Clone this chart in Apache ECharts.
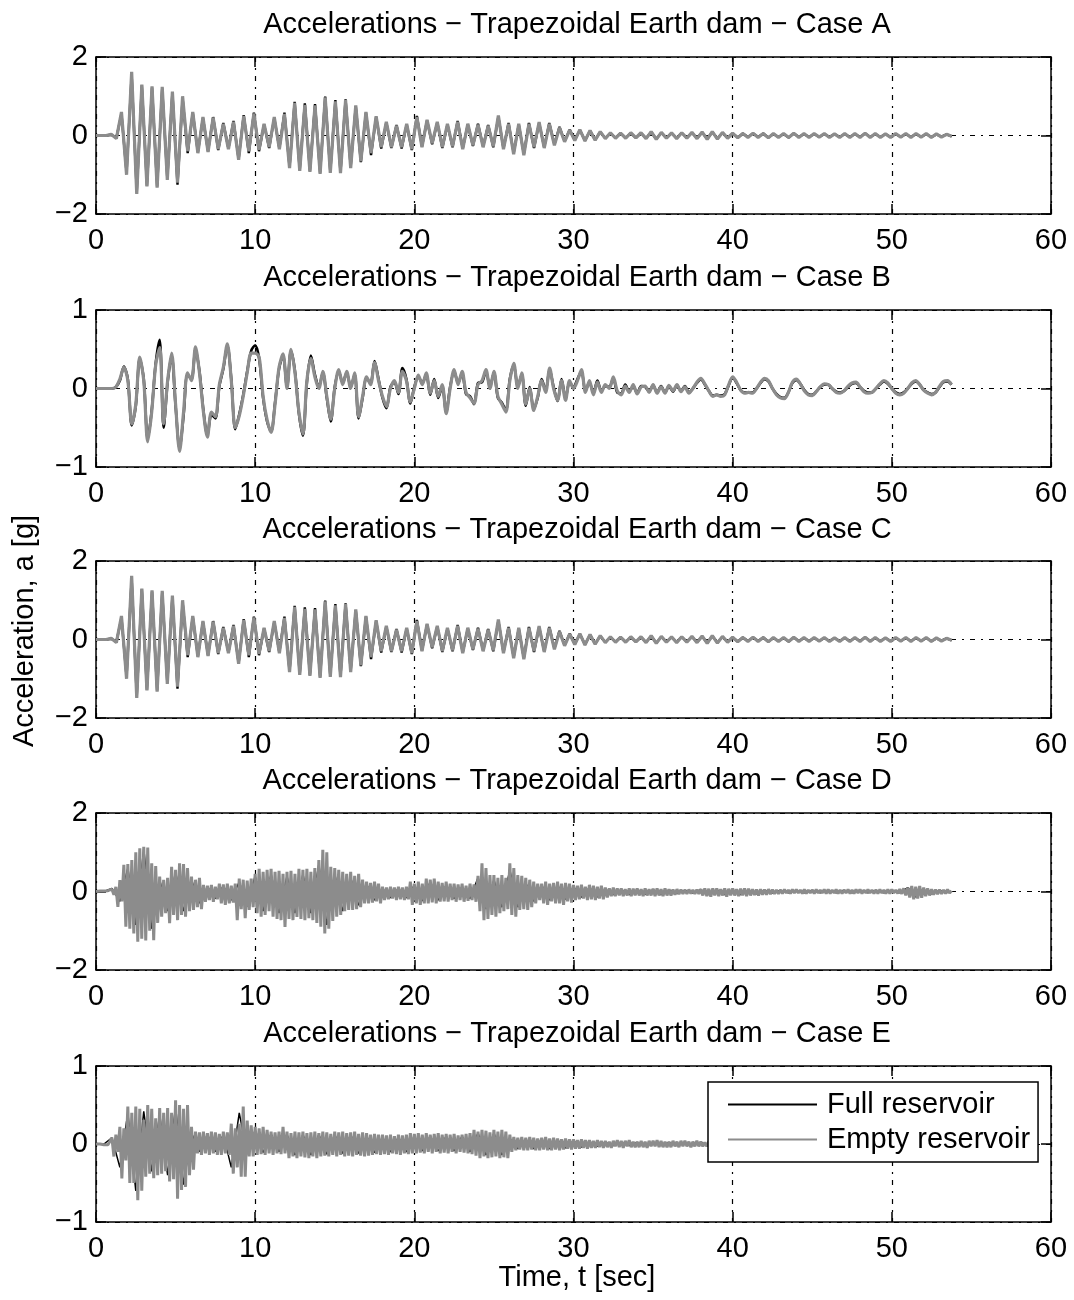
<!DOCTYPE html>
<html><head><meta charset="utf-8">
<script src="https://cdn.jsdelivr.net/npm/echarts@6/dist/echarts.min.js"></script>
<style>html,body{margin:0;padding:0;background:#fff}#c{width:1074px;height:1300px}</style>
</head><body><div id="c"></div>
<script>
// ---------- data ----------
const xTicks = [0, 10, 20, 30, 40, 50, 60];
const caseLabels = ['A', 'B', 'C', 'D', 'E'];
const yRangeA = [-2, 2], yRangeB = [-1, 1], yRangeC = [-2, 2], yRangeD = [-2, 2], yRangeE = [-1, 1];
// sample steps (s)
const dtA = 0.32, dtB = 0.25, dtC = 0.32, dtD = 0.125, dtE = 0.125, dtDfull = 0.5, dtEfull = 0.5;

const caseA_empty = [
0,0,0,0.03,-0.08,0.6,-1.0,1.62,-1.49,1.3,
-1.3,1.25,-1.33,1.24,-1.13,1.12,-1.2,1.0,-0.4,0.6,
-0.45,0.47,-0.42,0.46,-0.35,0.3,-0.35,0.35,-0.62,0.5,
-0.4,0.56,-0.37,0.3,-0.3,0.47,-0.35,0.55,-0.83,0.83,
-0.9,0.78,-0.93,0.77,-0.98,0.97,-0.95,0.87,-0.96,0.9,
-0.83,0.77,-0.66,0.6,-0.45,0.49,-0.3,0.35,-0.3,0.25,
-0.3,0.3,-0.35,0.47,-0.3,0.4,-0.2,0.35,-0.3,0.3,
-0.28,0.35,-0.35,0.3,-0.25,0.28,-0.3,0.25,-0.28,0.51,
-0.35,0.3,-0.48,0.3,-0.5,0.3,-0.3,0.34,-0.32,0.3,
-0.25,0.2,-0.16,0.14,-0.13,0.15,-0.14,0.13,-0.12,0.1,
-0.08,0.07,-0.07,0.06,-0.07,0.07,-0.06,0.07,-0.08,0.1,
-0.1,0.08,-0.07,0.07,-0.08,0.07,-0.07,0.08,-0.08,0.09,
-0.1,0.1,-0.09,0.08,-0.07,0.06,-0.06,0.05,-0.05,0.06,
-0.05,0.05,-0.06,0.05,-0.05,0.05,-0.05,0.06,-0.05,0.05,
-0.05,0.05,-0.04,0.05,-0.05,0.04,-0.05,0.05,-0.05,0.05,
-0.05,0.06,-0.05,0.05,-0.05,0.04,-0.05,0.05,-0.04,0.05,
-0.05,0.05,-0.04,0.05,-0.05,0.04,-0.04,0.03,-0.02];
const caseA_full = [
0,0,0,0.02,-0.06,0.55,-0.95,1.55,-1.45,1.28,
-1.28,1.22,-1.3,1.2,-1.1,1.1,-1.25,0.95,-0.45,0.58,
-0.43,0.45,-0.4,0.47,-0.37,0.32,-0.33,0.37,-0.6,0.52,
-0.45,0.58,-0.4,0.28,-0.32,0.45,-0.33,0.58,-0.8,0.86,
-0.88,0.82,-0.9,0.8,-0.95,0.99,-0.93,0.9,-0.94,0.92,
-0.8,0.75,-0.68,0.58,-0.5,0.47,-0.33,0.33,-0.32,0.27,
-0.33,0.28,-0.37,0.5,-0.28,0.38,-0.22,0.33,-0.32,0.28,
-0.3,0.37,-0.33,0.28,-0.27,0.3,-0.28,0.27,-0.3,0.48,
-0.33,0.32,-0.45,0.28,-0.47,0.32,-0.32,0.32,-0.3,0.32,
-0.23,0.22,-0.15,0.15,-0.12,0.14,-0.13,0.12,-0.11,0.09,
-0.07,0.06,-0.06,0.06,-0.06,0.06,-0.06,0.06,-0.07,0.09,
-0.09,0.07,-0.07,0.06,-0.07,0.07,-0.06,0.07,-0.07,0.08,
-0.09,0.09,-0.08,0.07,-0.06,0.05,-0.05,0.05,-0.04,0.05,
-0.04,0.05,-0.05,0.04,-0.04,0.04,-0.05,0.05,-0.04,0.04,
-0.04,0.04,-0.04,0.04,-0.04,0.04,-0.04,0.04,-0.04,0.04,
-0.04,0.05,-0.04,0.04,-0.04,0.04,-0.04,0.04,-0.04,0.04,
-0.04,0.04,-0.04,0.04,-0.04,0.03,-0.03,0.03,-0.02];

const caseB_empty = [
0,0,0,0,0,0.02,0.12,0.27,0.1,-0.45,
-0.2,0.4,0.1,-0.68,-0.3,0.3,0.52,-0.45,0.1,0.45,
-0.2,-0.8,-0.3,0.2,0.1,0.53,0.2,-0.3,-0.62,-0.3,
-0.36,0.05,0.27,0.57,0.1,-0.5,-0.35,-0.1,0.2,0.45,
0.45,0.4,-0.1,-0.4,-0.56,-0.2,0.27,0.44,0.0,0.5,
0.2,-0.3,-0.58,0.1,0.38,0.15,0.0,0.22,-0.1,-0.39,
0.0,0.24,0.05,0.22,0.0,0.2,-0.36,-0.1,0.15,0.05,
0.33,0.1,-0.1,-0.23,0.0,0.1,-0.05,0.22,0.1,-0.17,
0.0,0.17,0.05,0.2,-0.06,0.1,-0.1,0.05,-0.32,0.0,
0.24,0.05,0.22,-0.05,-0.12,-0.19,0.05,0.1,0.24,0.0,
0.22,-0.1,-0.2,-0.3,0.1,0.32,0.0,0.2,-0.2,0.0,
-0.28,-0.1,0.1,-0.05,0.26,0.0,-0.15,0.1,-0.15,0.1,
0.0,0.1,0.24,-0.05,0.1,-0.08,0.08,-0.05,0.05,0.0,
0.15,-0.03,-0.08,0.03,-0.05,0.05,-0.07,0.02,0.03,-0.05,
0.05,-0.06,0.02,-0.06,0.04,-0.03,0.05,-0.04,0.02,-0.06,
0.0,0.08,0.13,0.06,-0.03,-0.1,-0.08,-0.1,-0.08,0.05,
0.15,0.08,-0.02,-0.06,-0.05,-0.06,0.0,0.08,0.13,0.1,
0.0,-0.08,-0.12,-0.13,-0.05,0.08,0.12,0.06,-0.03,-0.08,
-0.09,-0.04,0.02,0.06,0.05,0.0,-0.05,-0.06,-0.03,0.03,
0.07,0.08,0.02,-0.04,-0.06,-0.05,0.0,0.06,0.1,0.07,
0.0,-0.06,-0.08,-0.06,0.0,0.07,0.1,0.05,-0.02,-0.06,
-0.08,-0.05,0.03,0.09,0.1,0.05];
const caseB_full = [
0,0,0,0,0,0.02,0.1,0.28,0.12,-0.47,
-0.22,0.38,0.12,-0.65,-0.28,0.32,0.62,-0.5,0.08,0.42,
-0.22,-0.76,-0.35,0.18,0.12,0.5,0.22,-0.28,-0.6,-0.33,
-0.38,0.03,0.25,0.55,0.12,-0.52,-0.33,-0.08,0.22,0.48,
0.55,0.38,-0.12,-0.42,-0.55,-0.18,0.25,0.42,0.02,0.48,
0.22,-0.32,-0.6,0.08,0.42,0.18,0.02,0.2,-0.12,-0.42,
0.02,0.22,0.07,0.2,0.02,0.18,-0.38,-0.12,0.13,0.07,
0.35,0.12,-0.12,-0.25,0.02,0.08,-0.07,0.26,0.12,-0.19,
0.02,0.15,0.07,0.18,-0.08,0.12,-0.12,0.03,-0.3,0.02,
0.22,0.07,0.2,-0.07,-0.1,-0.2,0.07,0.08,0.22,0.02,
0.2,-0.12,-0.18,-0.28,0.12,0.3,0.02,0.18,-0.22,0.02,
-0.26,-0.12,0.12,-0.03,0.24,0.02,-0.16,0.12,-0.13,0.08,
0.02,0.12,0.22,-0.03,0.08,-0.06,0.1,-0.03,0.03,0.02,
0.13,-0.05,-0.06,0.05,-0.04,0.03,-0.06,0.03,0.02,-0.04,
0.04,-0.05,0.03,-0.05,0.03,-0.04,0.04,-0.03,0.03,-0.05,
0.0,0.07,0.12,0.05,-0.03,-0.09,-0.08,-0.09,-0.07,0.04,
0.14,0.07,-0.02,-0.05,-0.05,-0.05,0.0,0.07,0.12,0.09,
0.0,-0.07,-0.11,-0.12,-0.05,0.07,0.11,0.06,-0.02,-0.07,
-0.08,-0.04,0.02,0.05,0.05,0.0,-0.04,-0.05,-0.03,0.02,
0.06,0.07,0.02,-0.03,-0.05,-0.05,0.0,0.05,0.09,0.06,
0.0,-0.05,-0.07,-0.05,0.0,0.06,0.09,0.05,-0.02,-0.05,
-0.07,-0.05,0.02,0.08,0.09,0.05];

const caseC_empty = [
0,0,0,0.03,-0.08,0.6,-1.0,1.62,-1.49,1.3,
-1.3,1.25,-1.33,1.24,-1.13,1.12,-1.2,1.0,-0.4,0.6,
-0.45,0.47,-0.42,0.46,-0.35,0.3,-0.35,0.35,-0.62,0.5,
-0.4,0.56,-0.37,0.3,-0.3,0.47,-0.35,0.55,-0.83,0.83,
-0.9,0.78,-0.93,0.77,-0.98,0.97,-0.95,0.87,-0.96,0.9,
-0.83,0.77,-0.66,0.6,-0.45,0.49,-0.3,0.35,-0.3,0.25,
-0.3,0.3,-0.35,0.47,-0.3,0.4,-0.2,0.35,-0.3,0.3,
-0.28,0.35,-0.35,0.3,-0.25,0.28,-0.3,0.25,-0.28,0.51,
-0.35,0.3,-0.48,0.3,-0.5,0.3,-0.3,0.34,-0.32,0.3,
-0.25,0.2,-0.16,0.14,-0.13,0.15,-0.14,0.13,-0.12,0.1,
-0.08,0.07,-0.07,0.06,-0.07,0.07,-0.06,0.07,-0.08,0.1,
-0.1,0.08,-0.07,0.07,-0.08,0.07,-0.07,0.08,-0.08,0.09,
-0.1,0.1,-0.09,0.08,-0.07,0.06,-0.06,0.05,-0.05,0.06,
-0.05,0.05,-0.06,0.05,-0.05,0.05,-0.05,0.06,-0.05,0.05,
-0.05,0.05,-0.04,0.05,-0.05,0.04,-0.05,0.05,-0.05,0.05,
-0.05,0.06,-0.05,0.05,-0.05,0.04,-0.05,0.05,-0.04,0.05,
-0.05,0.05,-0.04,0.05,-0.05,0.04,-0.04,0.03,-0.02];
const caseC_full = [
0,0,0,0.02,-0.06,0.55,-0.95,1.55,-1.45,1.28,
-1.28,1.22,-1.3,1.2,-1.1,1.1,-1.25,0.95,-0.45,0.58,
-0.43,0.45,-0.4,0.47,-0.37,0.32,-0.33,0.37,-0.6,0.52,
-0.45,0.58,-0.4,0.28,-0.32,0.45,-0.33,0.58,-0.8,0.86,
-0.88,0.82,-0.9,0.8,-0.95,0.99,-0.93,0.9,-0.94,0.92,
-0.8,0.75,-0.68,0.58,-0.5,0.47,-0.33,0.33,-0.32,0.27,
-0.33,0.28,-0.37,0.5,-0.28,0.38,-0.22,0.33,-0.32,0.28,
-0.3,0.37,-0.33,0.28,-0.27,0.3,-0.28,0.27,-0.3,0.48,
-0.33,0.32,-0.45,0.28,-0.47,0.32,-0.32,0.32,-0.3,0.32,
-0.23,0.22,-0.15,0.15,-0.12,0.14,-0.13,0.12,-0.11,0.09,
-0.07,0.06,-0.06,0.06,-0.06,0.06,-0.06,0.06,-0.07,0.09,
-0.09,0.07,-0.07,0.06,-0.07,0.07,-0.06,0.07,-0.07,0.08,
-0.09,0.09,-0.08,0.07,-0.06,0.05,-0.05,0.05,-0.04,0.05,
-0.04,0.05,-0.05,0.04,-0.04,0.04,-0.05,0.05,-0.04,0.04,
-0.04,0.04,-0.04,0.04,-0.04,0.04,-0.04,0.04,-0.04,0.04,
-0.04,0.05,-0.04,0.04,-0.04,0.04,-0.04,0.04,-0.04,0.04,
-0.04,0.04,-0.04,0.04,-0.04,0.03,-0.03,0.03,-0.02];

const caseD_empty = [
0,0,0.01,-0.01,0.01,-0.01,0.02,-0.02,
0.06,-0.08,0.12,-0.39,0.29,-0.25,0.68,-0.9,
0.7,-0.95,0.8,-1.07,1.0,-1.28,1.1,-1.2,
1.14,-1.25,1.12,-1.0,0.72,-1.24,0.65,-0.8,
0.38,-0.64,0.3,-0.55,0.35,-0.81,0.63,-0.6,
0.55,-0.73,0.72,-0.6,0.7,-0.64,0.6,-0.5,
0.38,-0.47,0.3,-0.4,0.35,-0.45,0.17,-0.26,
0.15,-0.22,0.17,-0.26,0.12,-0.2,0.2,-0.3,
0.18,-0.34,0.2,-0.3,0.15,-0.28,0.2,-0.73,
0.33,-0.45,0.3,-0.68,0.28,-0.47,0.33,-0.4,
0.45,-0.55,0.58,-0.64,0.5,-0.6,0.55,-0.5,
0.58,-0.64,0.5,-0.7,0.53,-0.73,0.45,-0.9,
0.5,-0.7,0.53,-0.73,0.45,-0.65,0.58,-0.7,
0.55,-0.73,0.58,-0.68,0.5,-0.73,0.6,-0.8,
0.8,-0.9,1.06,-1.07,1.0,-0.95,0.63,-0.75,
0.6,-0.64,0.55,-0.6,0.5,-0.5,0.45,-0.47,
0.5,-0.47,0.4,-0.45,0.45,-0.4,0.3,-0.3,
0.25,-0.3,0.22,-0.28,0.25,-0.25,0.2,-0.3,
0.12,-0.22,0.1,-0.2,0.12,-0.18,0.1,-0.22,
0.12,-0.2,0.1,-0.22,0.12,-0.2,0.25,-0.34,
0.2,-0.3,0.25,-0.34,0.2,-0.3,0.33,-0.3,
0.3,-0.28,0.33,-0.3,0.25,-0.26,0.22,-0.25,
0.25,-0.26,0.2,-0.22,0.2,-0.26,0.18,-0.22,
0.2,-0.26,0.15,-0.24,0.2,-0.22,0.18,-0.26,
0.4,-0.5,0.72,-0.73,0.6,-0.7,0.42,-0.6,
0.42,-0.64,0.35,-0.55,0.42,-0.5,0.35,-0.45,
0.72,-0.6,0.6,-0.64,0.42,-0.47,0.4,-0.45,
0.35,-0.47,0.3,-0.4,0.25,-0.3,0.2,-0.22,
0.2,-0.3,0.25,-0.34,0.2,-0.25,0.22,-0.3,
0.25,-0.3,0.2,-0.34,0.22,-0.25,0.2,-0.28,
0.17,-0.22,0.15,-0.2,0.17,-0.18,0.12,-0.22,
0.17,-0.2,0.15,-0.22,0.12,-0.18,0.15,-0.2,
0.1,-0.15,0.08,-0.12,0.1,-0.12,0.08,-0.1,
0.08,-0.12,0.06,-0.1,0.08,-0.12,0.07,-0.1,
0.08,-0.1,0.06,-0.12,0.08,-0.1,0.06,-0.1,
0.07,-0.12,0.08,-0.1,0.06,-0.12,0.08,-0.1,
0.06,-0.1,0.05,-0.08,0.06,-0.07,0.05,-0.06,
0.04,-0.06,0.05,-0.05,0.04,-0.06,0.05,-0.06,
0.06,-0.1,0.08,-0.12,0.07,-0.13,0.08,-0.1,
0.08,-0.12,0.06,-0.1,0.08,-0.13,0.07,-0.1,
0.08,-0.1,0.06,-0.12,0.07,-0.1,0.08,-0.12,
0.07,-0.1,0.06,-0.09,0.05,-0.1,0.06,-0.08,
0.05,-0.08,0.06,-0.07,0.05,-0.06,0.04,-0.06,
0.04,-0.05,0.05,-0.04,0.04,-0.05,0.05,-0.04,
0.05,-0.04,0.04,-0.05,0.05,-0.05,0.04,-0.04,
0.04,-0.05,0.05,-0.04,0.04,-0.04,0.05,-0.05,
0.05,-0.05,0.04,-0.04,0.05,-0.05,0.04,-0.05,
0.04,-0.04,0.05,-0.05,0.04,-0.05,0.05,-0.04,
0.05,-0.05,0.04,-0.04,0.05,-0.04,0.04,-0.05,
0.04,-0.05,0.05,-0.04,0.04,-0.05,0.05,-0.05,
0.05,-0.04,0.04,-0.05,0.06,-0.06,0.08,-0.1,
0.1,-0.15,0.14,-0.2,0.12,-0.18,0.14,-0.16,
0.1,-0.12,0.08,-0.1,0.06,-0.08,0.05,-0.07,
0.05,-0.06,0.04,-0.05,0.05,-0.04,0.02];
const caseD_full = [
0,0, 0.08,-0.25, 0.6,-0.85, 1.1,-0.95, 0.3,-0.5, 0.5,-0.5, 0.3,-0.3, 0.12,-0.18, 0.14,-0.22, 0.25,-0.38,
0.4,-0.5, 0.45,-0.55, 0.4,-0.55, 0.45,-0.55, 0.7,-0.85, 0.45,-0.5, 0.35,-0.35, 0.18,-0.22, 0.08,-0.16, 0.08,-0.16,
0.16,-0.24, 0.25,-0.22, 0.16,-0.18, 0.12,-0.18, 0.35,-0.45, 0.3,-0.4, 0.55,-0.4, 0.22,-0.25, 0.16,-0.22, 0.16,-0.2,
0.12,-0.15, 0.1,-0.14, 0.06,-0.08, 0.05,-0.08, 0.05,-0.07, 0.05,-0.08, 0.04,-0.05, 0.03,-0.04, 0.05,-0.08, 0.05,-0.08,
0.05,-0.08, 0.04,-0.06, 0.03,-0.04, 0.03,-0.03, 0.03,-0.03, 0.03,-0.03, 0.03,-0.03, 0.03,-0.03, 0.03,-0.03, 0.03,-0.03,
0.03,-0.03, 0.1,-0.14, 0.05,-0.06, 0.03,-0.03];

const caseE_empty = [
0,0,0,0.01,-0.01,0.01,-0.01,0.01,
0.08,-0.16,0.12,-0.1,0.22,-0.44,0.2,-0.21,
0.48,-0.5,0.4,-0.5,0.48,-0.72,0.45,-0.6,
0.31,-0.42,0.5,-0.38,0.45,-0.44,0.33,-0.4,
0.46,-0.38,0.4,-0.35,0.46,-0.48,0.4,-0.45,
0.56,-0.7,0.5,-0.59,0.45,-0.55,0.5,-0.4,
0.22,-0.33,0.16,-0.12,0.15,-0.14,0.16,-0.12,
0.14,-0.14,0.16,-0.12,0.15,-0.14,0.13,-0.14,
0.16,-0.12,0.15,-0.14,0.26,-0.38,0.2,-0.3,
0.26,-0.42,0.48,-0.42,0.3,-0.16,0.24,-0.16,
0.22,-0.14,0.2,-0.13,0.22,-0.14,0.18,-0.12,
0.16,-0.14,0.15,-0.12,0.16,-0.13,0.22,-0.12,
0.16,-0.18,0.14,-0.16,0.16,-0.18,0.15,-0.16,
0.16,-0.17,0.14,-0.18,0.15,-0.16,0.16,-0.18,
0.14,-0.16,0.16,-0.15,0.15,-0.16,0.13,-0.14,
0.16,-0.16,0.15,-0.14,0.16,-0.16,0.14,-0.15,
0.15,-0.16,0.16,-0.14,0.13,-0.15,0.15,-0.16,
0.14,-0.15,0.12,-0.14,0.13,-0.13,0.12,-0.14,
0.12,-0.13,0.11,-0.14,0.12,-0.12,0.1,-0.13,
0.12,-0.14,0.11,-0.12,0.12,-0.13,0.14,-0.12,
0.13,-0.12,0.14,-0.11,0.12,-0.12,0.14,-0.1,
0.12,-0.12,0.13,-0.1,0.14,-0.12,0.12,-0.11,
0.13,-0.12,0.12,-0.1,0.13,-0.12,0.11,-0.1,
0.12,-0.11,0.13,-0.12,0.14,-0.13,0.18,-0.15,
0.16,-0.18,0.18,-0.16,0.17,-0.18,0.15,-0.17,
0.18,-0.16,0.16,-0.18,0.18,-0.17,0.16,-0.18,
0.12,-0.1,0.09,-0.08,0.08,-0.07,0.09,-0.08,
0.08,-0.08,0.09,-0.07,0.08,-0.08,0.07,-0.08,
0.08,-0.07,0.09,-0.08,0.07,-0.08,0.08,-0.07,
0.07,-0.08,0.06,-0.07,0.07,-0.06,0.06,-0.07,
0.06,-0.06,0.05,-0.06,0.06,-0.05,0.05,-0.06,
0.05,-0.05,0.04,-0.05,0.05,-0.04,0.04,-0.05,
0.04,-0.04,0.03,-0.05,0.04,-0.03,0.05,-0.04,
0.04,-0.05,0.04,-0.03,0.05,-0.04,0.03,-0.04,
0.03,-0.04,0.04,-0.04,0.03,-0.05,0.04,-0.03,
0.04,-0.03,0.05,-0.04,0.04,-0.04,0.03,-0.04,
0.03,-0.04,0.04,-0.03,0.03,-0.04,0.04,-0.03,
0.04,-0.03,0.03,-0.04,0.03,-0.03,0.04,-0.03,
0.03,-0.03,0.02,-0.03,0.03,-0.02,0.03,-0.03,
0.03,-0.02,0.03,-0.03,0.02,-0.03,0.03,-0.03,
0.02,-0.03,0.03,-0.02,0.03,-0.03,0.02,-0.03,
0.03,-0.03,0.02,-0.03,0.03,-0.02,0.03,-0.03,
0.03,-0.02,0.03,-0.03,0.02,-0.03,0.03,-0.03,
0.02,-0.03,0.03,-0.02,0.03,-0.03,0.02,-0.03,
0.03,-0.03,0.02,-0.03,0.03,-0.02,0.03,-0.03,
0.03,-0.02,0.03,-0.03,0.02,-0.03,0.03,-0.03,
0.02,-0.03,0.03,-0.02,0.03,-0.03,0.02,-0.03,
0.03,-0.03,0.02,-0.03,0.03,-0.02,0.03,-0.03,
0.03,-0.02,0.03,-0.03,0.02,-0.03,0.03,-0.03,
0.02,-0.03,0.03,-0.02,0.03,-0.03,0.02,-0.03,
0.03,-0.03,0.02,-0.03,0.03,-0.02,0.03,-0.03,
0.03,-0.02,0.03,-0.03,0.02,-0.03,0.03,-0.03,
0.02,-0.03,0.03,-0.02,0.03,-0.03,0.02,-0.03,
0.03,-0.03,0.02,-0.03,0.03,-0.02,0.02];
const caseE_full = [
0,0, 0.08,-0.3, 0.4,-0.6, 0.42,-0.35, 0.38,-0.4, 0.48,-0.52, 0.14,-0.1, 0.12,-0.1, 0.12,-0.3, 0.4,-0.13,
0.18,-0.11, 0.13,-0.1, 0.12,-0.14, 0.12,-0.14, 0.12,-0.13, 0.12,-0.12, 0.12,-0.12, 0.1,-0.11, 0.09,-0.1, 0.09,-0.1,
0.1,-0.09, 0.1,-0.09, 0.1,-0.09, 0.1,-0.1, 0.14,-0.14, 0.14,-0.14, 0.07,-0.06, 0.06,-0.06, 0.06,-0.06, 0.05,-0.05,
0.04,-0.04, 0.03,-0.03, 0.02,-0.02, 0.02,-0.02, 0.02,-0.02, 0.02,-0.02, 0.02,-0.02, 0.02,-0.02, 0.02,-0.02, 0.02,-0.02,
0.02,-0.02, 0.02,-0.02, 0.02,-0.02, 0.02,-0.02, 0.02,-0.02, 0.02,-0.02, 0.02,-0.02, 0.02,-0.02, 0.02,-0.02, 0.02,-0.02,
0.02,-0.02, 0.02,-0.02, 0.02,-0.02, 0.02,-0.02];

// ---------- layout / style ----------
const FONT = 'Liberation Sans, Arial, Helvetica, sans-serif';
const FS = 29;
const GRAY = '#8c8c8c';
const gridTops = [57, 310, 561, 813, 1066];
const gridH = [157, 157, 157, 157, 156];
const titleY = [25, 278, 530, 781, 1034];
const GL = 96, GW = 955;

const panels = [
  {full: caseA_full, empty: caseA_empty, dt: dtA, dtF: dtA, yr: yRangeA, w: [2.4, 3.2]},
  {full: caseB_full, empty: caseB_empty, dt: dtB, dtF: dtB, yr: yRangeB, w: [2.6, 3.2], smooth: 0.3},
  {full: caseC_full, empty: caseC_empty, dt: dtC, dtF: dtC, yr: yRangeC, w: [2.4, 3.2]},
  {full: caseD_full, empty: caseD_empty, dt: dtD, dtF: dtDfull, yr: yRangeD, w: [1.5, 3]},
  {full: caseE_full, empty: caseE_empty, dt: dtE, dtF: dtEfull, yr: yRangeE, w: [1.5, 3]}
];

const toXY = (vals, dt) => vals.map((v, i) => [Math.round(i * dt * 1000) / 1000, v]);
const fmtY = v => (v < 0 ? '\u2212' + Math.abs(v) : String(v));
const dashDot = [5, 6, 2, 6];

const grid = [], xAxis = [], yAxis = [], series = [], title = [];
panels.forEach((p, k) => {
  grid.push({left: GL, top: gridTops[k], width: GW, height: gridH[k], containLabel: false});
  title.push({
    text: 'Accelerations \u2212 Trapezoidal Earth dam \u2212 Case ' + caseLabels[k],
    left: 577, top: titleY[k], textAlign: 'center', textVerticalAlign: 'middle', padding: 0,
    textStyle: {fontFamily: FONT, fontSize: FS, fontWeight: 'normal', color: '#000'}
  });
  const yInt = p.yr[1];
  const common = {gridIndex: k, type: 'value', min: 0, max: 60, interval: 10};
  xAxis.push(Object.assign({}, common, {
    position: 'bottom',
    axisLine: {onZero: false, lineStyle: {color: '#000', width: 1.5}},
    axisTick: {inside: true, length: 10, lineStyle: {color: '#000', width: 1.5}},
    axisLabel: {margin: 12, fontFamily: FONT, fontSize: FS, color: '#000'},
    splitLine: {show: true, lineStyle: {color: '#000', width: 1.2, type: dashDot}}
  }));
  xAxis.push(Object.assign({}, common, {
    position: 'top',
    axisLine: {onZero: false, lineStyle: {color: '#000', width: 1.5}},
    axisTick: {inside: true, length: 10, lineStyle: {color: '#000', width: 1.5}},
    axisLabel: {show: false}, splitLine: {show: false}
  }));
  const ycommon = {gridIndex: k, type: 'value', min: p.yr[0], max: p.yr[1], interval: yInt};
  yAxis.push(Object.assign({}, ycommon, {
    position: 'left',
    axisLine: {show: true, onZero: false, lineStyle: {color: '#000', width: 1.5}},
    axisTick: {show: true, inside: true, length: 10, lineStyle: {color: '#000', width: 1.5}},
    axisLabel: {margin: 8, fontFamily: FONT, fontSize: FS, color: '#000', formatter: fmtY},
    splitLine: {show: true, lineStyle: {color: '#000', width: 1.2, type: dashDot}}
  }));
  yAxis.push(Object.assign({}, ycommon, {
    position: 'right',
    axisLine: {show: true, onZero: false, lineStyle: {color: '#000', width: 1.5}},
    axisTick: {show: true, inside: true, length: 10, lineStyle: {color: '#000', width: 1.5}},
    axisLabel: {show: false}, splitLine: {show: false}
  }));
  series.push({
    name: 'Full reservoir', type: 'line', xAxisIndex: 2 * k, yAxisIndex: 2 * k,
    data: toXY(p.full, p.dtF), symbol: 'none', smooth: p.smooth || false,
    lineStyle: {color: '#000', width: p.w[0], join: 'bevel'}, itemStyle: {color: '#000'},
    z: 3, animation: false
  });
  series.push({
    name: 'Empty reservoir', type: 'line', xAxisIndex: 2 * k, yAxisIndex: 2 * k,
    data: toXY(p.empty, p.dt), symbol: 'none', smooth: p.smooth || false,
    lineStyle: {color: GRAY, width: p.w[1], join: 'bevel'}, itemStyle: {color: GRAY},
    z: 4, animation: false
  });
});

const chart = echarts.init(document.getElementById('c'), null, {renderer: 'canvas'});
chart.setOption({
  animation: false,
  backgroundColor: '#fff',
  title: title,
  grid: grid, xAxis: xAxis, yAxis: yAxis, series: series,
  legend: {
    data: ['Full reservoir', 'Empty reservoir'],
    orient: 'vertical', left: 708, top: 1082,
    padding: [8, 8, 8, 19], itemGap: 6, itemWidth: 89, itemHeight: 14,
    backgroundColor: '#fff', borderColor: '#000', borderWidth: 1.5, borderRadius: 0,
    itemStyle: {opacity: 0, borderWidth: 0},
    lineStyle: {width: 2},
    textStyle: {fontFamily: FONT, fontSize: FS, color: '#000', padding: [0, 0, 0, 5]},
    z: 10
  },
  graphic: [
    {type: 'text', x: 25, y: 631, rotation: Math.PI / 2, z: 10,
     style: {text: 'Acceleration, a [g]', font: FS + 'px ' + FONT, fill: '#000',
             textAlign: 'center', textVerticalAlign: 'middle', align: 'center', verticalAlign: 'middle'}},
    {type: 'text', x: 577, y: 1278, z: 10,
     style: {text: 'Time, t [sec]', font: FS + 'px ' + FONT, fill: '#000',
             textAlign: 'center', textVerticalAlign: 'middle', align: 'center', verticalAlign: 'middle'}}
  ]
});
</script>
</body></html>
